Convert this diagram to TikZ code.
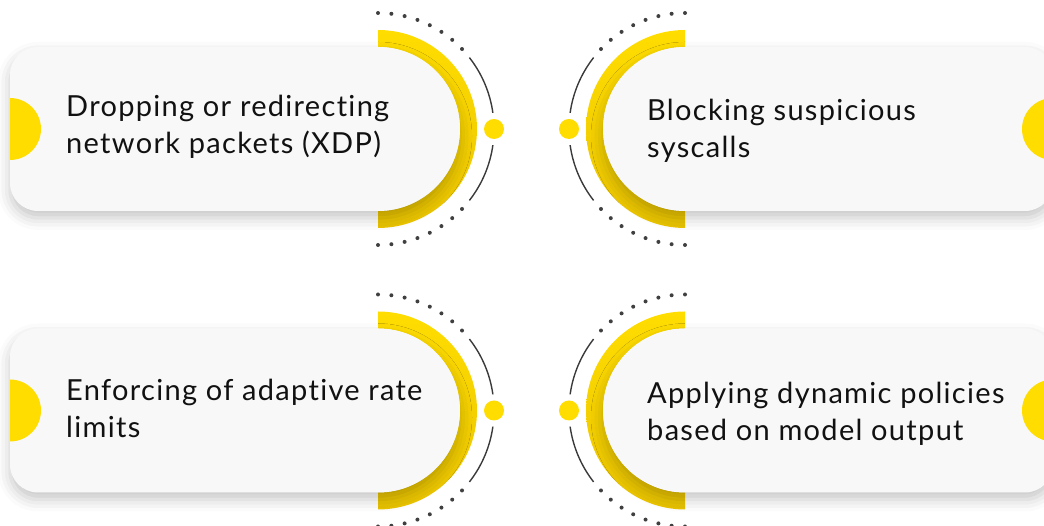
\documentclass[tikz,border=0pt]{standalone}
\usepackage{fontspec}
\setmainfont{Lato}[Ligatures={NoCommon,NoRare,NoDiscretionary},LetterSpace=4.5]
\usetikzlibrary{shadows.blur}
\definecolor{cardbg}{HTML}{F8F8F8}
\definecolor{ylw}{HTML}{FFDD00}
\definecolor{ylwdark}{HTML}{EAC400}
\definecolor{arcgray}{HTML}{3A3A3A}
\definecolor{dotgray}{HTML}{404040}
\definecolor{txt}{HTML}{111111}
\begin{document}
\begin{tikzpicture}[x=1pt,y=1pt,
  ring/.style={top color=ylw, bottom color=ylwdark},
  thinarc/.style={draw=arcgray, line width=1.4pt},
  card/.style={fill=cardbg, blur shadow={shadow xshift=0pt, shadow yshift=-7pt,
      shadow blur radius=12pt, shadow opacity=22}},
  lbl/.style={inner sep=0pt, text=txt, font=\fontsize{29}{35}\selectfont, anchor=base west}]
\useasboundingbox (0,0) rectangle (1044,526);
\clip (0,0) rectangle (1044,526);

\foreach \cy in {397,115.5}{
  % ---- left card: rings and dots on its right side
  \path[ring] (378,\cy+99) arc[start angle=90,end angle=-90,radius=99]
     -- (378,\cy-82) arc[start angle=-90,end angle=90,radius=82] -- cycle;
  \foreach \k in {0,...,7}{
    \fill[dotgray] (378,\cy) ++(90-\k*6.63:116) circle[radius=2];
    \fill[dotgray] (378,\cy) ++(-90+\k*6.63:116) circle[radius=2];
  }
  \draw[thinarc] (378,\cy) ++(8:116) arc[start angle=8,end angle=38,radius=116];
  \draw[thinarc] (378,\cy) ++(-8:116) arc[start angle=-8,end angle=-38,radius=116];
  \fill[ylw] (494,\cy) circle[radius=10];
  \path[card] (378,\cy+82) -- (38,\cy+82) arc[start angle=90,end angle=180,radius=28]
     -- (10,\cy-54) arc[start angle=180,end angle=270,radius=28]
     -- (378,\cy-82) arc[start angle=-90,end angle=90,radius=82] -- cycle;
  \fill[ylw] (10,\cy-31) arc[start angle=-90,end angle=90,radius=31] -- cycle;

  % ---- right card: rings and dots on its left side
  \path[ring] (685,\cy+99) arc[start angle=90,end angle=270,radius=99]
     -- (685,\cy-82) arc[start angle=270,end angle=90,radius=82] -- cycle;
  \foreach \k in {0,...,7}{
    \fill[dotgray] (685,\cy) ++(90+\k*6.63:116) circle[radius=2];
    \fill[dotgray] (685,\cy) ++(270-\k*6.63:116) circle[radius=2];
  }
  \draw[thinarc] (685,\cy) ++(172:116) arc[start angle=172,end angle=142,radius=116];
  \draw[thinarc] (685,\cy) ++(188:116) arc[start angle=188,end angle=218,radius=116];
  \fill[ylw] (569,\cy) circle[radius=10];
  \path[card] (685,\cy+82) -- (1025,\cy+82) arc[start angle=90,end angle=0,radius=28]
     -- (1053,\cy-54) arc[start angle=0,end angle=-90,radius=28]
     -- (685,\cy-82) arc[start angle=270,end angle=90,radius=82] -- cycle;
  \fill[ylw] (1053,\cy+31) arc[start angle=90,end angle=270,radius=31] -- cycle;
}

% ---- labels
\node[lbl] (t1a) at (66,409) {Dropping or redirecting};
\node[lbl] (t1b) at (66,372) {network packets (XDP)};
\node[lbl] (t2a) at (647,405) {Blocking suspicious};
\node[lbl] (t2b) at (647,368) {syscalls};
\node[lbl] (t3a) at (66,125) {Enforcing of adaptive rate};
\node[lbl] (t3b) at (66,88) {limits};
\node[lbl] (t4a) at (647,122) {Applying dynamic policies};
\node[lbl] (t4b) at (647,85) {based on model output};
\end{tikzpicture}
\end{document}
